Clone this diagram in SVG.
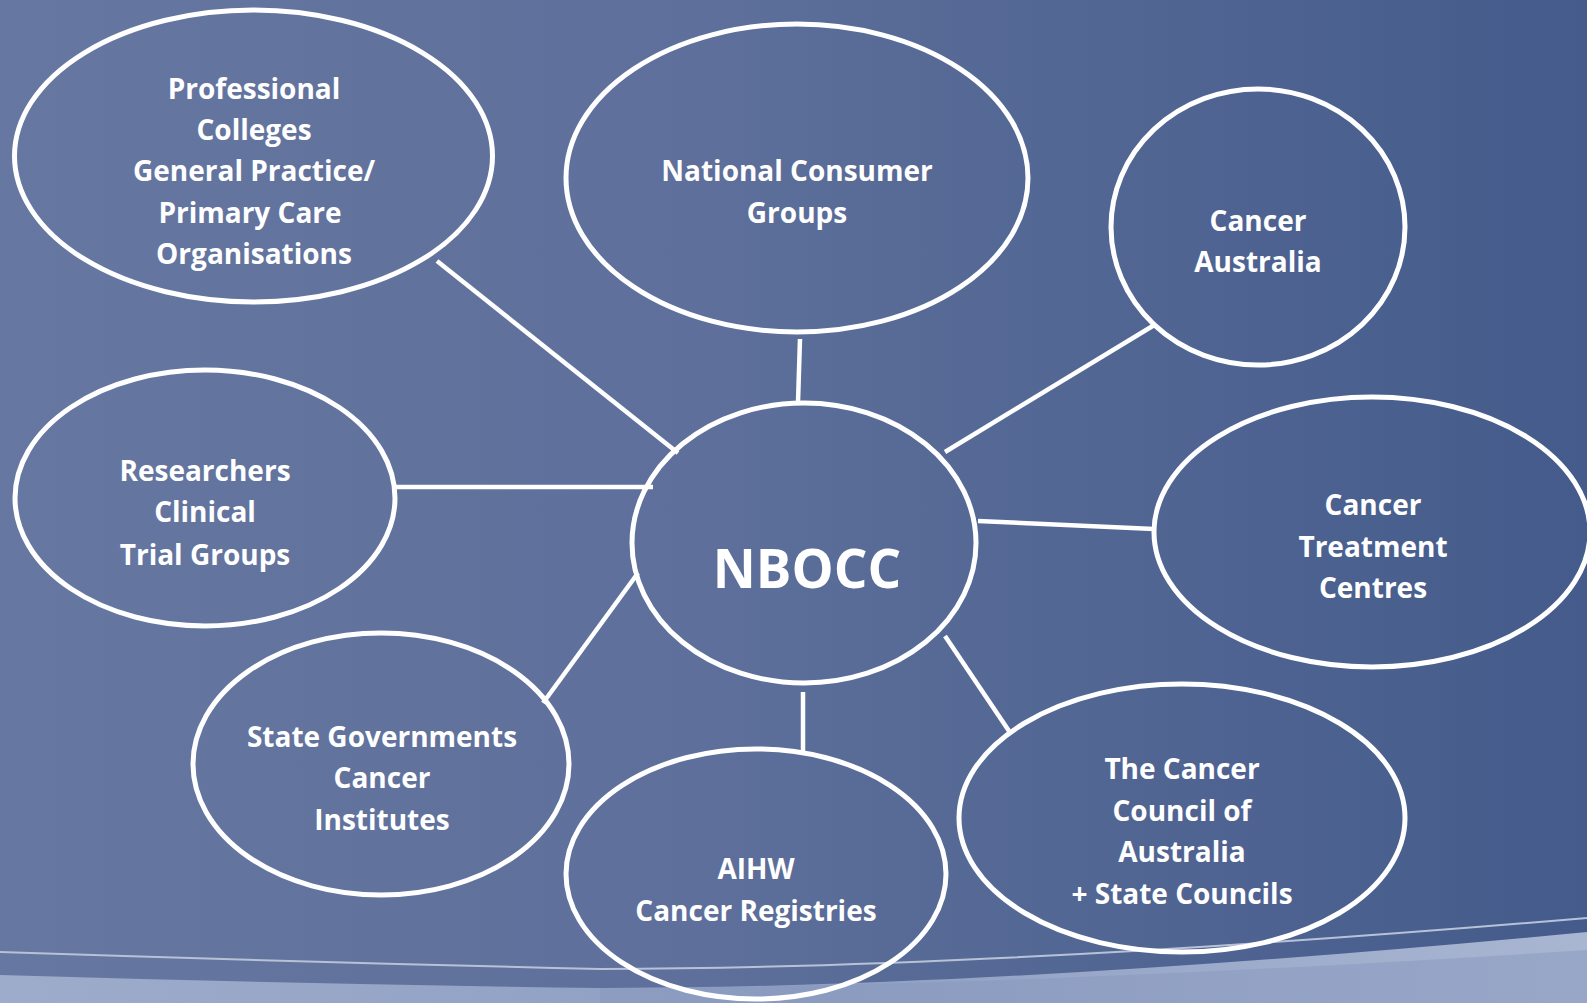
<svg xmlns="http://www.w3.org/2000/svg" width="1587" height="1003" viewBox="0 0 1587 1003">
  <defs>
    <linearGradient id="bg" x1="0" y1="0" x2="1" y2="0">
      <stop offset="0" stop-color="#6677a1"/>
      <stop offset="0.45" stop-color="#5d6f9a"/>
      <stop offset="1" stop-color="#445b8b"/>
    </linearGradient>
    <linearGradient id="band" x1="0" y1="0" x2="1" y2="0">
      <stop offset="0" stop-color="#9eaccb"/>
      <stop offset="0.5" stop-color="#8e9fc3"/>
      <stop offset="1" stop-color="#a9b6d2"/>
    </linearGradient>
    <style>
      .node ellipse { fill: none; stroke: #ffffff; stroke-width: 5; }
      .node text { fill: #ffffff; font-family: "Open Sans", "Noto Sans", "Liberation Sans", sans-serif; font-weight: bold; font-size: 28px; text-anchor: middle; }
      .node text.big { font-size: 53px; }
      #connectors line { stroke: #ffffff; stroke-width: 4.5; }
    </style>
  </defs>

  <rect x="0" y="0" width="1587" height="1003" fill="url(#bg)"/>
  <!-- bottom swoosh -->
  <path d="M0,975 Q300,984 600,988 Q1000,988 1587,932 L1587,1003 L0,1003 Z" fill="url(#band)"/>
  <path d="M600,988 Q1000,988 1587,950 L1587,1003 L600,1003 Z" fill="#8797bd" opacity="0.5"/>
  <path d="M0,952 Q300,962 600,969 Q1000,968 1587,918" fill="none" stroke="#b7c2d8" stroke-width="2"/>

  <g id="connectors">
    <line x1="437" y1="261" x2="678" y2="453"/>
    <line x1="800" y1="339" x2="798" y2="402"/>
    <line x1="1156" y1="324" x2="945" y2="452"/>
    <line x1="395" y1="487" x2="653" y2="487"/>
    <line x1="978" y1="521" x2="1154" y2="529"/>
    <line x1="638" y1="573" x2="543" y2="703"/>
    <line x1="803" y1="692" x2="803" y2="751"/>
    <line x1="945" y1="636" x2="1009" y2="731"/>
  </g>

  <g id="node-professional" class="node">
    <ellipse cx="253.5" cy="156" rx="239" ry="146"/>
    <text x="254" y="99">Professional</text>
    <text x="254" y="140">Colleges</text>
    <text x="254" y="181">General Practice/</text>
    <text x="250" y="223">Primary Care</text>
    <text x="254" y="264">Organisations</text>
  </g>

  <g id="node-consumer" class="node">
    <ellipse cx="797" cy="178" rx="231" ry="154"/>
    <text x="797" y="181">National Consumer</text>
    <text x="797" y="223">Groups</text>
  </g>

  <g id="node-cancer-australia" class="node">
    <ellipse cx="1258" cy="227" rx="147" ry="138"/>
    <text x="1258" y="231">Cancer</text>
    <text x="1258" y="272">Australia</text>
  </g>

  <g id="node-researchers" class="node">
    <ellipse cx="205" cy="498" rx="190" ry="128"/>
    <text x="205" y="481">Researchers</text>
    <text x="205" y="522">Clinical</text>
    <text x="205" y="565">Trial Groups</text>
  </g>

  <g id="node-nbocc" class="node">
    <ellipse cx="804" cy="543" rx="172" ry="140"/>
    <text class="big" x="807" y="588">NBOCC</text>
  </g>

  <g id="node-treatment" class="node">
    <ellipse cx="1372" cy="532" rx="218" ry="135"/>
    <text x="1373" y="515">Cancer</text>
    <text x="1373" y="557">Treatment</text>
    <text x="1373" y="598">Centres</text>
  </g>

  <g id="node-state" class="node">
    <ellipse cx="381" cy="764" rx="188" ry="131"/>
    <text x="382" y="747">State Governments</text>
    <text x="382" y="788">Cancer</text>
    <text x="382" y="830">Institutes</text>
  </g>

  <g id="node-aihw" class="node">
    <ellipse cx="756" cy="874" rx="190" ry="125"/>
    <text x="756" y="879">AIHW</text>
    <text x="756" y="921">Cancer Registries</text>
  </g>

  <g id="node-council" class="node">
    <ellipse cx="1182" cy="818" rx="223" ry="134"/>
    <text x="1182" y="779">The Cancer</text>
    <text x="1182" y="821">Council of</text>
    <text x="1182" y="862">Australia</text>
    <text x="1182" y="904">+ State Councils</text>
  </g>
</svg>
